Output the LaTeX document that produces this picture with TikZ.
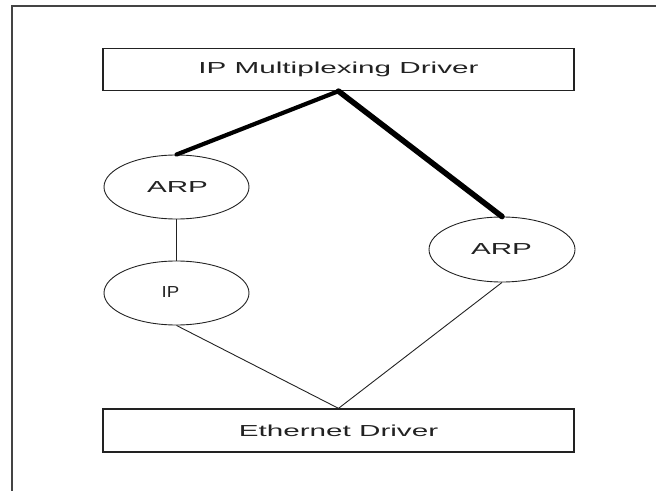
\documentclass[tikz,border=0pt]{standalone}
\usepackage{fontspec}
\setmainfont{Liberation Sans}
\usetikzlibrary{shapes.geometric}
\definecolor{ink}{HTML}{222222}
\definecolor{frameink}{HTML}{444444}
\newcommand{\wide}[2][1.86]{\scalebox{#1}[1]{#2}}
\tikzset{
  layerbox/.style={draw=ink, line width=1.3pt, rectangle, inner sep=0pt, text=ink,
    minimum width=471bp, minimum height=42bp, font=\fontsize{16}{19}\selectfont},
  modnode/.style={draw=ink, line width=0.9pt, ellipse, inner sep=0pt, text=ink,
    minimum width=145bp, minimum height=64bp, font=\fontsize{16}{19}\selectfont},
  thinlink/.style={draw=ink, line width=0.9pt},
  thicklink/.style={draw=black, line cap=round},
}
\begin{document}
\begin{tikzpicture}[x=1bp, y=-1bp]
\useasboundingbox (0,0) rectangle (656,491);
% frame
\draw[frameink, line width=2pt] (12,491) -- (12,6) -- (656,6);
% nodes
\node[layerbox] (mux) at (338.5,69.5) {\wide{IP Multiplexing Driver}};
\node[layerbox, minimum height=43bp] (eth) at (338.5,430.5) {\wide{Ethernet Driver}};
\node[modnode] (arpa) at (176.5,187) {};
\node at (177.5,187) [text=ink, font=\fontsize{16}{19}\selectfont] (arpatext) {\wide{ARP}};
\node[modnode] (ip) at (176.5,293) {};
\node at (170.5,292) [text=ink, font=\fontsize{16}{19}\selectfont] (iptext) {\wide[1.17]{IP}};
\node[modnode, minimum width=146bp, minimum height=65bp] (arpb) at (502,249.5) {};
\node at (501.5,249) [text=ink, font=\fontsize{16}{19}\selectfont] (arpbtext) {\wide{ARP}};
% connectors
\draw[thicklink, line width=4.2pt] (mux.south) -- (arpa.north);
\draw[thicklink, line width=5.6pt] (mux.south) -- (arpb.north);
\draw[thinlink, line width=1.2pt] (arpa.south) -- (ip.north);
\draw[thinlink] (ip.south) -- (eth.north);
\draw[thinlink] (arpb.south) -- (eth.north);
\end{tikzpicture}
\end{document}
